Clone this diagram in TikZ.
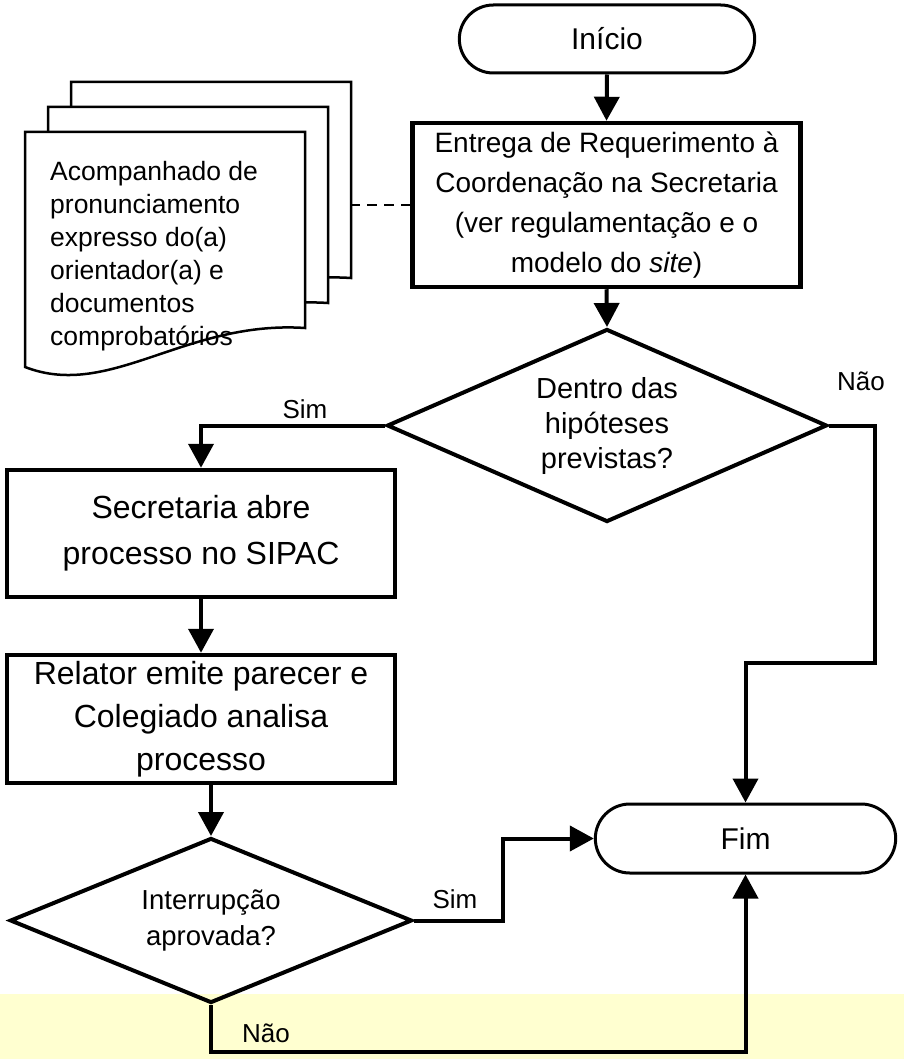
\documentclass[tikz,border=0pt]{standalone}
\usepackage{fontspec}
\setmainfont{Liberation Sans}
\usetikzlibrary{shapes.geometric,shapes.misc,arrows.meta}
\definecolor{fundo}{RGB}{255,255,208}

\begin{document}
\begin{tikzpicture}[x=1pt,y=-1pt,
  caixa/.style={draw, line width=4.5pt, rectangle, minimum width=388pt, align=center, inner sep=0pt},
  decisao/.style={draw, line width=4pt, diamond, align=center, inner sep=0pt},
  terminal/.style={draw, line width=3pt, rounded rectangle, minimum height=68pt, font=\fontsize{30pt}{36pt}\selectfont},
  seta/.style={line width=4pt, -{Triangle[width=25pt,length=24pt]}},
  rotulo/.style={anchor=base, font=\fontsize{26pt}{31pt}\selectfont}]
\useasboundingbox (0,0) rectangle (904,1059);
\fill[fundo] (0,994) rectangle (904,1059);
%\node {\includegraphics{fluxo.png}};
% documentos anexos
\foreach \d in {2,1,0}
  \filldraw[fill=white, line width=2.5pt, shift={(23*\d,-25*\d)}] (25,132) -- (305,132) -- (305,328) .. controls (185,320) and (110,400) .. (25,367) -- cycle;
\node[anchor=north west, inner sep=0pt, align=left, font=\fontsize{26.5pt}{33pt}\selectfont] (anexos) at (50,161) {Acompanhado de\\pronunciamento\\expresso do(a)\\orientador(a) e\\documentos\\comprobatórios};
\coordinate (docs) at (350,205);

\node[terminal, minimum width=302pt] (inicio) at (607,39) {Início};
\node[caixa, minimum height=164pt, font=\fontsize{28pt}{40pt}\selectfont] (entrega) at (606.5,205) {Entrega de Requerimento à\\Coordenação na Secretaria\\(ver regulamentação e o\\modelo do \textit{site})};
\node[decisao, minimum width=440pt, minimum height=193pt, aspect=2.28, font=\fontsize{29pt}{35pt}\selectfont] (dentro) at (607,425.5) {Dentro das\\hipóteses\\previstas?};
\node[caixa, minimum height=127pt, font=\fontsize{32pt}{46pt}\selectfont] (secretaria) at (201,533.5) {Secretaria abre\\processo no SIPAC};
\node[caixa, minimum height=128pt, font=\fontsize{32pt}{43pt}\selectfont] (relator) at (201,719) {Relator emite parecer e\\Colegiado analisa\\processo};
\node[decisao, minimum width=402pt, minimum height=165pt, aspect=2.44, font=\fontsize{27.5pt}{36pt}\selectfont] (interrupcao) at (211,920.5) {Interrupção\\aprovada?};
\node[terminal, minimum width=307pt, minimum height=69pt] (fim) at (745.5,838.5) {Fim};

\coordinate (desvioNao) at (875,663);
\coordinate (desvioSim) at (503,920.5);
\coordinate (desvioBase) at (211,1052);

\draw[line width=2.5pt, dash pattern=on 10pt off 7pt] (docs) -- (entrega.west);
\draw[seta] (inicio.south) -- (entrega.north);
\draw[seta] (entrega.south) -- (dentro.north);
\draw[seta] (dentro.west) -| (secretaria.north);
\draw[seta] (secretaria.south) -- (relator.north);
\draw[seta] (relator.south -| interrupcao.north) -- (interrupcao.north);
\draw[seta] (dentro.east) -| (desvioNao) -| (fim.north);
\draw[seta] (interrupcao.east) -- (desvioSim) |- (fim.west);
\draw[seta] (interrupcao.south) -- (desvioBase) -| (fim.south);

\node[rotulo] (sim1) at (305,418) {Sim};
\node[rotulo] (nao1) at (861,390) {Não};
\node[rotulo] (sim2) at (455,908) {Sim};
\node[rotulo] (nao2) at (266,1042) {Não};
\end{tikzpicture}
\end{document}
